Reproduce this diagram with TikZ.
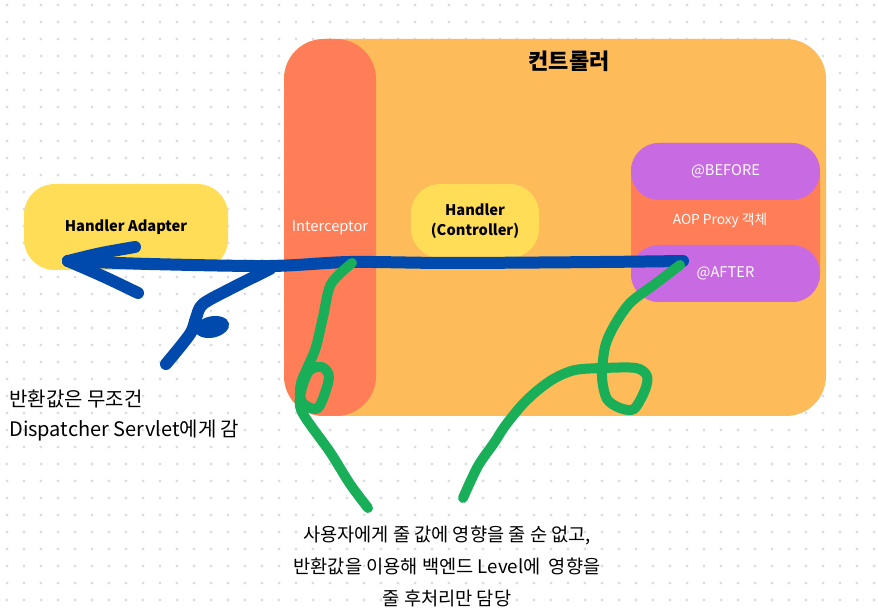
\documentclass[tikz,border=0pt]{standalone}
\usepackage{fontspec}
\setmainfont{Noto Sans CJK KR}
\definecolor{ctlorange}{HTML}{FDBB5A}
\definecolor{coral}{HTML}{FF7D57}
\definecolor{hyellow}{HTML}{FFDD57}
\definecolor{aoppurple}{HTML}{C86BE3}
\definecolor{retblue}{HTML}{004AAD}
\definecolor{notegreen}{HTML}{19AE58}
\definecolor{griddot}{HTML}{DADDE4}
\begin{document}
\begin{tikzpicture}[x=.75pt,y=-.75pt,
  blk/.style={rounded corners=#1,inner sep=0pt,align=center},
  pen/.style={line width=#1,line cap=round,line join=round},
  lbl/.style={font=\fontsize{11}{13}\selectfont,text=white}]
\useasboundingbox[fill=white] (0,0) rectangle (878,616);
\foreach \X in {7,24,...,875}{\foreach \Y in {5,22,...,612}{\fill[griddot] (\X,\Y) circle (1.3pt);}}
% controller and its parts
\node[blk=30pt,fill=ctlorange,minimum width=406.5pt,minimum height=282.75pt] (ctl) at (555,227.5) {};
\node[blk=30pt,fill=coral,minimum width=69pt,minimum height=282.75pt,lbl] (icpt) at (330,227.5) {Interceptor};
\node[font=\bfseries\fontsize{16.5}{18}\selectfont] (ctltitle) at (569,61) {컨트롤러};
\node[blk=22pt,fill=hyellow,minimum width=96pt,minimum height=55.5pt,font=\bfseries\fontsize{11}{15}\selectfont] (hdl) at (475,221) {Handler\\(Controller)};
\node[blk=21pt,fill=coral,minimum width=141.75pt,minimum height=119.25pt] (aop) at (725.5,222.5) {};
\node[lbl,font=\fontsize{10.3}{13}\selectfont] (aoplbl) at (720,220) {AOP Proxy 객체};
\node[blk=21pt,fill=aoppurple,minimum width=141.75pt,minimum height=42.75pt,lbl] (before) at (725.5,171.5) {@BEFORE};
\node[blk=21pt,fill=aoppurple,minimum width=141.75pt,minimum height=42.75pt,lbl] (after) at (725.5,273.5) {@AFTER};
\node[blk=23pt,fill=hyellow,minimum width=153pt,minimum height=64.5pt,font=\bfseries\fontsize{11}{13}\selectfont] (adapter) at (126,227) {Handler Adapter};
% notes
\node[anchor=north west,align=left,inner sep=0pt,font=\fontsize{15}{22}\selectfont] (retnote) at (9,390) {반환값은 무조건\\Dispatcher Servlet에게 감};
\node[align=center,inner sep=0pt,font=\fontsize{14}{24}\selectfont] (postnote) at (447,566) {사용자에게 줄 값에 영향을 줄 순 없고,\\반환값을 이용해 백엔드 Level에~ 영향을\\줄 후처리만 담당};
% hand drawn strokes
\coordinate (retfrom) at (683,261);\coordinate (rettip) at (68,261);
\draw[pen=9pt,retblue] plot[smooth,tension=.5] coordinates {(retfrom) (600,262) (450,263) (350,262) (270,266) (150,264) (rettip)};
\draw[pen=9pt,retblue] (rettip) .. controls (100,253) .. (135,247);
\draw[pen=9pt,retblue] (rettip) .. controls (105,277) .. (138,293);
\draw[pen=9pt,retblue] plot[smooth,tension=.5] coordinates {(270,269) (232,288) (203,304) (196,318) (190,334) (166,364)};
\fill[retblue,rotate around={12:(212,327)}] (212,327) ellipse (13pt and 8pt);
\coordinate (icptnote) at (352,263);\coordinate (aftnote) at (680,265);
\draw[pen=7.5pt,notegreen] plot[smooth,tension=.5] coordinates {(icptnote) (331,284) (323,317) (315,350) (301,383) (302,402) (318,408) (329,378) (322,367) (309,371) (301,392) (302,412) (330,452) (350,484) (368,508)};
\draw[pen=7.5pt,notegreen] plot[smooth,tension=.5] coordinates {(aftnote) (655,284) (630,303) (614,326) (605,347) (602,377) (607,399) (620,408) (634,409) (645,390) (647,376) (636,368) (603,368) (575,370) (555,378) (538,390) (522,405) (505,426) (494,443) (478,466) (463,498)};
\end{tikzpicture}
\end{document}
